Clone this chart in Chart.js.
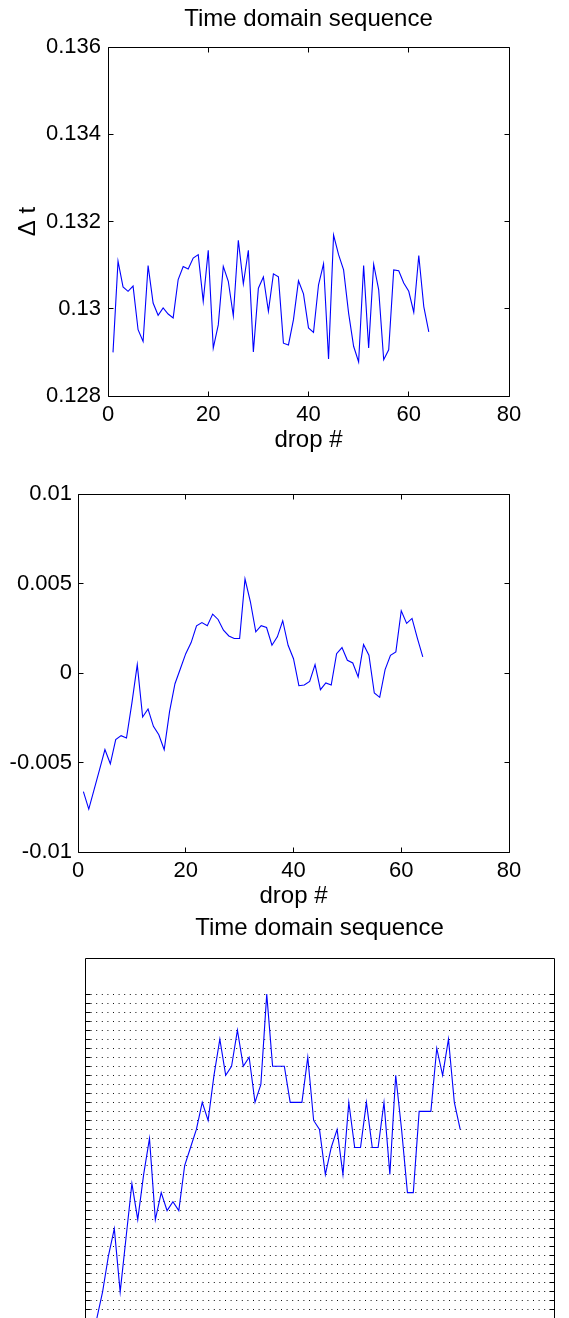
<!DOCTYPE html>
<html>
<head>
<meta charset="utf-8">
<script src="https://cdn.jsdelivr.net/npm/chart.js@4.4.1/dist/chart.umd.min.js"></script>
<style>
html, body { margin: 0; padding: 0; overflow: hidden; background: #fff; width: 569px; height: 1318px; }
canvas { position: absolute; left: 0; }
</style>
</head>
<body>
<canvas id="c1" width="569" height="455" style="top:0px"></canvas>
<canvas id="c2" width="569" height="455" style="top:460px"></canvas>
<canvas id="c3" width="569" height="437" style="top:900px"></canvas>
<script>
// Data
const drops = [1, 2, 3, 4, 5, 6, 7, 8, 9, 10, 11, 12, 13, 14, 15, 16,
  17, 18, 19, 20, 21, 22, 23, 24, 25, 26, 27, 28, 29, 30, 31, 32,
  33, 34, 35, 36, 37, 38, 39, 40, 41, 42, 43, 44, 45, 46, 47, 48,
  49, 50, 51, 52, 53, 54, 55, 56, 57, 58, 59, 60, 61, 62, 63, 64];

// top panel: delta t per drop
const dtValues = [0.12900, 0.13109, 0.13050, 0.13040, 0.13052, 0.12952, 0.12925, 0.13099,
  0.13013, 0.12985, 0.13002, 0.12988, 0.12979, 0.13067, 0.13097, 0.13091,
  0.13116, 0.13124, 0.13017, 0.13134, 0.12910, 0.12963, 0.13097, 0.13063,
  0.12984, 0.13157, 0.13057, 0.13134, 0.12901, 0.13047, 0.13073, 0.12994,
  0.13080, 0.13073, 0.12921, 0.12917, 0.12975, 0.13064, 0.13034, 0.12956,
  0.12946, 0.13055, 0.13103, 0.12885, 0.13169, 0.13124, 0.13089, 0.12990,
  0.12914, 0.12878, 0.13099, 0.12910, 0.13102, 0.13044, 0.12883, 0.12906,
  0.13089, 0.13087, 0.13059, 0.13040, 0.12992, 0.13122, 0.13005, 0.12947];
const dtTicks = [0.128, 0.13, 0.132, 0.134, 0.136];
const dtTickLabels = ['0.128', '0.13', '0.132', '0.134', '0.136'];

// middle panel: accumulated deviation
const devValues = [-0.00663, -0.0076, -0.0065, -0.0054, -0.00428, -0.00507, -0.00372, -0.0035,
  -0.00363, -0.00168, 0.00047, -0.00246, -0.00201, -0.00298, -0.00345, -0.00428,
  -0.00214, -0.0006, 0.00024, 0.00108, 0.0017, 0.00264, 0.00282, 0.00264,
  0.00329, 0.00299, 0.00239, 0.00207, 0.00193, 0.00193, 0.00525, 0.00398,
  0.0023, 0.00264, 0.00254, 0.00155, 0.00202, 0.00292, 0.00155, 0.0008,
  -0.00071, -0.00067, -0.00047, 0.00047, -0.00093, -0.00056, -0.00067, 0.00108,
  0.00142, 0.00071, 0.00056, -0.00022, 0.00159, 0.00099, -0.00112, -0.00136,
  0.00019, 0.00099, 0.00118, 0.00348, 0.00277, 0.00305, 0.00193, 0.0009];
const devTicks = [-0.01, -0.005, 0, 0.005, 0.01];
const devTickLabels = ['-0.01', '-0.005', '0', '0.005', '0.01'];

// bottom panel: quantized levels (no tick labels shown)
const levelValues = [-2, 0, 3, 7, 10, 3, 9, 15, 11, 16, 20, 11, 14, 12, 13, 12,
  17, 19, 21, 24, 22, 27, 31, 27, 28, 32, 28, 29, 24, 26, 36, 28,
  28, 28, 24, 24, 24, 29, 22, 21, 16, 19, 21, 16, 24, 19, 19, 24,
  19, 19, 24, 16, 27, 21, 14, 14, 23, 23, 23, 30, 27, 31, 24, 21];
const levelTicks = [-2, -1, 0, 1, 2, 3, 4, 5, 6, 7, 8, 9, 10, 11, 12, 13, 14, 15, 16, 17, 18,
  19, 20, 21, 22, 23, 24, 25, 26, 27, 28, 29, 30, 31, 32, 33, 34, 35, 36];

const dropTicks = [0, 20, 40, 60, 80];
const dropTickLabels = ['0', '20', '40', '60', '80'];

Chart.defaults.font.family = "'Liberation Sans', Arial, Helvetica, sans-serif";
Chart.defaults.color = '#000';
Chart.defaults.animation = false;

// matlab style box with inward tick marks
const boxTicks = {
  id: 'boxTicks',
  afterDraw(chart, args, opts) {
    const {ctx, chartArea: a, scales} = chart;
    const px = v => Math.round(v - 0.5) + 0.5;
    const len = 5;
    ctx.save();
    ctx.strokeStyle = '#000';
    ctx.lineWidth = 1;
    ctx.beginPath();
    if (opts.x) {
      scales.x.ticks.forEach(t => {
        const p = px(scales.x.getPixelForValue(t.value));
        ctx.moveTo(p, px(a.bottom)); ctx.lineTo(p, px(a.bottom) - len);
        ctx.moveTo(p, px(a.top)); ctx.lineTo(p, px(a.top) + len);
      });
    }
    if (opts.y) {
      scales.y.ticks.forEach(t => {
        const p = px(scales.y.getPixelForValue(t.value));
        ctx.moveTo(px(a.left), p); ctx.lineTo(px(a.left) + len, p);
        ctx.moveTo(px(a.right), p); ctx.lineTo(px(a.right) - len, p);
      });
    }
    ctx.rect(px(a.left), px(a.top), px(a.right) - px(a.left), px(a.bottom) - px(a.top));
    ctx.stroke();
    ctx.restore();
  }
};

function points(ys) {
  return drops.map((d, i) => ({x: d, y: ys[i]}));
}

function fixedTicks(values) {
  return s => { s.ticks = values.map(v => ({value: v})); };
}

function lineSet(ys) {
  return {data: points(ys), borderColor: '#0000ff', borderWidth: 1.1, pointRadius: 0, tension: 0, fill: false};
}

const titleFont = {size: 24, lineHeight: 1, weight: 'normal'};
const tickFont = {size: 22};

// Panel 1
new Chart(document.getElementById('c1'), {
  type: 'line',
  data: {datasets: [lineSet(dtValues)]},
  options: {
    responsive: false,
    layout: {padding: {right: 60}},
    plugins: {
      legend: {display: false},
      tooltip: {enabled: false},
      title: {display: true, text: 'Time domain sequence', fullSize: false, font: titleFont, color: '#000', padding: {top: 7, bottom: 16}},
      boxTicks: {x: true, y: true}
    },
    scales: {
      x: {
        type: 'linear', min: 0, max: 80,
        afterBuildTicks: fixedTicks(dropTicks),
        afterFit: s => { s.height = 59; },
        grid: {display: false, drawTicks: false},
        border: {display: false},
        ticks: {font: tickFont, padding: 6, maxRotation: 0, autoSkip: false, callback: (v, i) => dropTickLabels[i]},
        title: {display: true, text: 'drop #', font: titleFont, padding: {top: 0, bottom: 3}}
      },
      y: {
        min: 0.128, max: 0.136,
        afterBuildTicks: fixedTicks(dtTicks),
        afterFit: s => { s.width = 108; },
        grid: {display: false, drawTicks: false},
        border: {display: false},
        ticks: {font: tickFont, padding: 7, autoSkip: false, callback: (v, i) => dtTickLabels[i]},
        title: {display: true, text: 'Δ t', font: titleFont, padding: {top: 16, bottom: 0}}
      }
    }
  },
  plugins: [boxTicks]
});

// Panel 2
new Chart(document.getElementById('c2'), {
  type: 'line',
  data: {datasets: [lineSet(devValues)]},
  options: {
    responsive: false,
    layout: {padding: {top: 34, right: 60}},
    plugins: {
      legend: {display: false},
      tooltip: {enabled: false},
      boxTicks: {x: true, y: true}
    },
    scales: {
      x: {
        type: 'linear', min: 0, max: 80,
        afterBuildTicks: fixedTicks(dropTicks),
        afterFit: s => { s.height = 63; },
        grid: {display: false, drawTicks: false},
        border: {display: false},
        ticks: {font: tickFont, padding: 6, maxRotation: 0, autoSkip: false, callback: (v, i) => dropTickLabels[i]},
        title: {display: true, text: 'drop #', font: titleFont, padding: {top: 0, bottom: 7}}
      },
      y: {
        min: -0.01, max: 0.01,
        afterBuildTicks: fixedTicks(devTicks),
        afterFit: s => { s.width = 78; },
        grid: {display: false, drawTicks: false},
        border: {display: false},
        ticks: {font: tickFont, padding: 6, autoSkip: false, callback: (v, i) => devTickLabels[i]}
      }
    }
  },
  plugins: [boxTicks]
});

// Panel 3
new Chart(document.getElementById('c3'), {
  type: 'line',
  data: {datasets: [lineSet(levelValues)]},
  options: {
    responsive: false,
    layout: {padding: {right: 15}},
    plugins: {
      legend: {display: false},
      tooltip: {enabled: false},
      title: {display: true, text: 'Time domain sequence', fullSize: false, font: titleFont, color: '#000', padding: {top: 16, bottom: 18}},
      boxTicks: {x: false, y: true}
    },
    scales: {
      x: {type: 'linear', min: 0, max: 80, display: false},
      y: {
        min: -2, max: 40,
        afterBuildTicks: fixedTicks(levelTicks),
        afterFit: s => { s.width = 85; },
        grid: {display: true, drawTicks: false, color: '#111', lineWidth: 1},
        border: {display: false, dash: [1, 4.6]},
        ticks: {display: false}
      }
    }
  },
  plugins: [boxTicks]
});
</script>
</body>
</html>
